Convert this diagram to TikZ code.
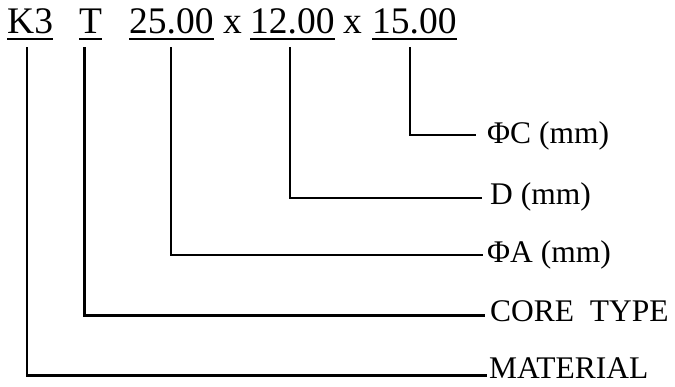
\documentclass[tikz,border=0pt]{standalone}
\usepackage{fontspec}
\setmainfont{Liberation Serif}
\begin{document}
\begin{tikzpicture}[x=1pt,y=-1pt,
  code/.style={anchor=base west,inner sep=0pt,font=\fontsize{37.5}{40}\selectfont},
  lbl/.style={anchor=base west,inner sep=0pt,font=\fontsize{31.5}{34}\selectfont},
  lead/.style={line width=2.6pt,line cap=butt,line join=miter},
  uline/.style={line width=2.2pt}]
\useasboundingbox (0,0) rectangle (675,386);
% code text
\node[code] (k3) at (7,33) {K3};
\node[code] (t) at (79,33) {T};
\node[code] (a) at (129,33) {25.00};
\node[code] (x1) at (223,33) {x};
\node[code] (d) at (250,33) {12.00};
\node[code] (x2) at (343,33) {x};
\node[code] (c) at (372,33) {15.00};
\foreach \n in {k3,t,a,d,c}{
  \draw[uline] ([yshift=-6pt]\n.base west) -- ([yshift=-6pt]\n.base east);
}
% labels
\node[lbl] (lc) at (487,143.3) {ΦC (mm)};
\node[lbl] (ld) at (490,204.5) {D (mm)};
\node[lbl] (la) at (487,262.3) {ΦA (mm)};
\node[lbl] (lt) at (490,321.7) {CORE~~TYPE};
\node[lbl] (lm) at (489,378) {MATERIAL};
% connector points
\coordinate (ck3) at (27,47);
\coordinate (ct) at (84.5,47);
\coordinate (ca) at (171,47);
\coordinate (cd) at (290,47);
\coordinate (cc) at (410,47);
\coordinate (ec) at (476,135);
\coordinate (ed) at (482,198);
\coordinate (ea) at (483,255);
\coordinate (et) at (485,315.5);
\coordinate (em) at (487,375.5);
\draw[lead] (cc) |- (ec);
\draw[lead] (cd) |- (ed);
\draw[lead] (ca) |- (ea);
\draw[lead] (ct) |- (et);
\draw[lead] (ck3) |- (em);
\end{tikzpicture}
\end{document}
